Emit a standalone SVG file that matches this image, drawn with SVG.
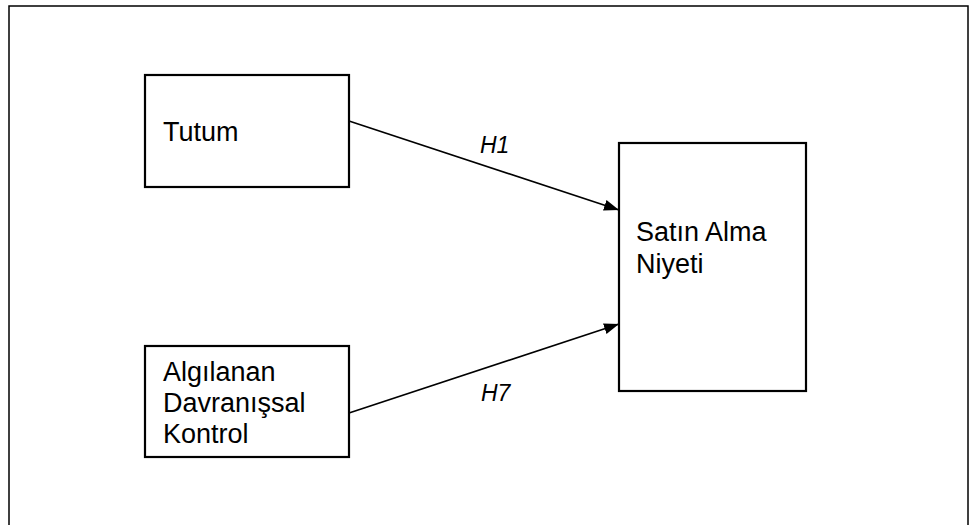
<svg xmlns="http://www.w3.org/2000/svg" width="973" height="525" viewBox="0 0 973 525">
<style>
.box{fill:#fff;stroke:#000;stroke-width:2.2}
.t{font-family:"Liberation Sans",Arial,sans-serif;font-size:27px;fill:#000}
.lbl{font-family:"Liberation Sans",Arial,sans-serif;font-size:23px;font-style:italic;fill:#000}
.edge{stroke:#000;stroke-width:1.6;fill:none;marker-end:url(#ah)}
</style>
<defs>
<marker id="ah" markerUnits="userSpaceOnUse" markerWidth="16" markerHeight="12" refX="15" refY="5.5" orient="auto">
<path d="M0,0 L15,5.5 L0,11 z" fill="#000"/>
</marker>
</defs>
<rect x="0" y="0" width="973" height="525" fill="#fff"/>
<rect id="frame" x="9" y="6" width="959" height="540" fill="none" stroke="#000" stroke-width="1.5"/>
<g id="connectors">
<line class="edge" x1="349" y1="121" x2="619" y2="210"/>
<line class="edge" x1="349" y1="413" x2="619" y2="324"/>
<text class="lbl" x="480" y="153">H1</text>
<text class="lbl" x="481" y="401">H7</text>
</g>
<g id="tutum">
<rect class="box" x="145" y="75" width="204" height="112"/>
<text class="t" x="163" y="141">Tutum</text>
</g>
<g id="algilanan">
<rect class="box" x="145" y="346" width="204" height="111"/>
<text class="t" x="163" y="381">Algılanan</text>
<text class="t" x="163" y="412">Davranışsal</text>
<text class="t" x="163" y="443">Kontrol</text>
</g>
<g id="satin">
<rect class="box" x="619" y="143" width="187" height="248"/>
<text class="t" x="636" y="241">Satın Alma</text>
<text class="t" x="636" y="273">Niyeti</text>
</g>
</svg>
